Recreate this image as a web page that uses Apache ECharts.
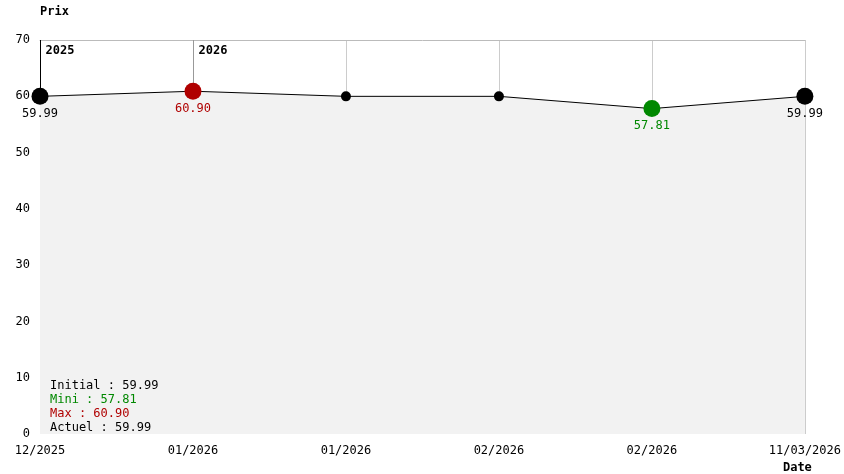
<!DOCTYPE html>
<html><head><meta charset="utf-8">
<script src="https://cdn.jsdelivr.net/npm/echarts@6/dist/echarts.min.js"></script>
<style>html,body{margin:0;padding:0;background:#fff}#main{width:844px;height:474px}</style>
</head><body><div id="main"></div>
<script>
var dates = ['12/2025', '01/2026', '01/2026', '02/2026', '02/2026', '11/03/2026'];
var prices = [59.99, 60.90, 59.99, 59.99, 57.81, 59.99];
var yearMarks = [{idx: 0, year: '2025'}, {idx: 1, year: '2026'}];
var statLines = ['Initial : 59.99', 'Mini : 57.81', 'Max : 60.90', 'Actuel : 59.99'];
var statColors = ['#000', '#008800', '#b00000', '#000'];

var font = 'DejaVu Sans Mono';
var myChart = echarts.init(document.getElementById('main'));

// couleurs et tailles des points
var points = prices.map(function (v, i) {
    var p = {value: v, symbolSize: 10, itemStyle: {color: '#000'}, label: {show: false}};
    if (i === 0 || i === prices.length - 1) {
        p.symbolSize = 17;
        p.label = {show: true, color: '#000'};
    }
    if (v === Math.max.apply(null, prices)) {
        p.symbolSize = 17; p.itemStyle = {color: '#b00000'};
        p.label = {show: true, color: '#b00000'};
    }
    if (v === Math.min.apply(null, prices)) {
        p.symbolSize = 17; p.itemStyle = {color: '#008800'};
        p.label = {show: true, color: '#008800'};
    }
    return p;
});

var option = {
    animation: false,
    textStyle: {fontFamily: font},
    grid: {left: 40, right: 39, top: 40, bottom: 39},
    xAxis: [{
        type: 'category', data: dates, boundaryGap: false,
        name: 'Date', nameLocation: 'end', nameGap: 0,
        nameTextStyle: {fontFamily: font, fontWeight: 'bold', fontSize: 12, color: '#000',
            verticalAlign: 'top', align: 'center', padding: [28, 0, 0, -15]},
        axisLine: {show: false}, axisTick: {show: false},
        axisLabel: {color: '#000', fontFamily: font, fontSize: 12, margin: 11, showMaxLabel: true},
        splitLine: {show: true, lineStyle: {color: '#cccccc'}}
    }, {
        type: 'category', data: dates, boundaryGap: false, position: 'top',
        axisLine: {show: true, lineStyle: {color: '#bbbbbb'}},
        axisTick: {show: false}, axisLabel: {show: false}
    }],
    yAxis: {
        type: 'value', min: 0, max: 70, interval: 10,
        name: 'Prix', nameGap: 22,
        nameTextStyle: {fontFamily: font, fontWeight: 'bold', fontSize: 12, color: '#000', align: 'left'},
        axisLine: {show: false}, axisTick: {show: false},
        axisLabel: {color: '#000', fontFamily: font, fontSize: 12, margin: 10},
        splitLine: {show: false}
    },
    series: [{
        type: 'line', data: points, symbol: 'circle', z: 3,
        lineStyle: {color: '#000', width: 1},
        areaStyle: {color: '#f2f2f2', opacity: 1},
        label: {position: 'bottom', distance: 3, fontFamily: font, fontSize: 12,
            formatter: function (p) { return p.value.toFixed(2); }},
        markLine: {
            symbol: 'none', silent: true, z: 1,
            data: yearMarks.map(function (m, k) {
                return [{coord: [m.idx, 70], lineStyle: {color: k === 0 ? '#000' : '#999', width: 1, type: 'solid'}},
                        {coord: [m.idx, prices[m.idx] + 1]}];
            }),
            label: {show: false}
        },
        markPoint: {
            symbol: 'circle', symbolSize: 1, itemStyle: {color: 'transparent'},
            data: yearMarks.map(function (m) {
                return {coord: [m.idx, 70], value: m.year};
            }),
            label: {show: true, position: 'right', offset: [0, 11], color: '#000',
                fontFamily: font, fontWeight: 'bold', fontSize: 12, formatter: '{c}'}
        }
    }],
    graphic: statLines.map(function (t, i) {
        return {
            type: 'text', left: 50, top: 380 + i * 14, z: 100,
            style: {text: t, fill: statColors[i], font: '12px "DejaVu Sans Mono"'}
        };
    })
};
myChart.setOption(option);
</script></body></html>
